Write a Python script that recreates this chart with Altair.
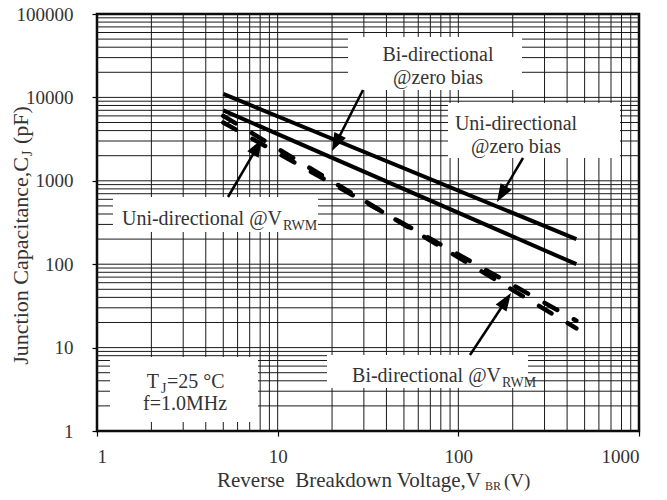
import math
import altair as alt
import pandas as pd

# ---------------- data ----------------
v_br = [5, 450]                      # reverse breakdown voltage (V)
bi_zero = [11000, 200]               # Bi-directional @zero bias (pF)
uni_zero = [7000, 100]               # Uni-directional @zero bias (pF)
uni_vrwm = [6000, 17]                # Uni-directional @VRWM (pF)
bi_vrwm = [5000, 21]                 # Bi-directional @VRWM (pF)

x_major = [1, 10, 100, 1000]
y_major = [1, 10, 100, 1000, 10000, 100000]
grid_x = [m * 10 ** d for d in range(3) for m in range(1, 10)] + [1000]
grid_y = [m * 10 ** d for d in range(5) for m in range(1, 10)] + [100000]

# ---------------- layout / style ----------------
W, H = 542, 417
FONT = "Liberation Serif"
INK = "#333333"

xs = alt.Scale(type="log", domain=[1, 1000])
ys = alt.Scale(type="log", domain=[1, 100000])

AX = alt.Axis(values=x_major, format="d", title=None, grid=False, domain=False,
              tickSize=5, tickColor="black", tickWidth=1.2, labelPadding=11,
              labelFontSize=19, labelFont=FONT, labelColor=INK)
AY = alt.Axis(values=y_major, format="d", title=None, grid=False, domain=False,
              tickSize=5, tickColor="black", tickWidth=1.2, labelPadding=19,
              labelFontSize=19, labelFont=FONT, labelColor=INK)

series_names = ["Bi-directional @zero bias", "Uni-directional @zero bias",
                "Uni-directional @VRWM", "Bi-directional @VRWM"]
lines = pd.DataFrame({
    "v": v_br * 4,
    "c": bi_zero + uni_zero + uni_vrwm + bi_vrwm,
    "series": [s for s in series_names for _ in range(2)],
    "kind": ["zero"] * 4 + ["vrwm"] * 4,
})

gx = alt.Chart(pd.DataFrame({"g": grid_x})).mark_rule(
    color="#1a1a1a", strokeWidth=1).encode(x=alt.X("g:Q", scale=xs, axis=AX))
gy = alt.Chart(pd.DataFrame({"g": grid_y})).mark_rule(
    color="#1a1a1a", strokeWidth=1).encode(y=alt.Y("g:Q", scale=ys, axis=AY))

# white label boxes (plot pixel coordinates)
boxes = pd.DataFrame({
    "x0": [251, 351, 16, 13, 230],
    "x1": [425, 523, 221, 161, 431],
    "y0": [23, 89, 183, 343, 341],
    "y1": [76, 144, 218, 408, 374],
})
box_layer = alt.Chart(boxes).mark_rect(fill="white", stroke=None).encode(
    x=alt.X("x0:Q", scale=None), x2="x1",
    y=alt.Y("y0:Q", scale=None), y2="y1")

solid = alt.Chart(lines[lines.kind == "zero"]).mark_line(
    color="black", strokeWidth=4).encode(
    x=alt.X("v:Q", scale=xs, axis=AX),
    y=alt.Y("c:Q", scale=ys, axis=AY),
    detail="series:N")
dashed = alt.Chart(lines[lines.kind == "vrwm"]).mark_line(
    color="black", strokeWidth=4.5, strokeDash=[14.5, 19], strokeCap="round").encode(
    x=alt.X("v:Q", scale=xs, axis=AX),
    y=alt.Y("c:Q", scale=ys, axis=AY),
    detail="series:N")

# arrows: tail -> tip (plot pixel coordinates)
arr_sx = [266, 426, 131, 373]
arr_sy = [76, 144, 183, 341]
arr_tx = [235, 400, 165, 414]
arr_ty = [137, 188, 125, 279]
HEAD = 18
rows = []
for sx, sy, tx, ty in zip(arr_sx, arr_sy, arr_tx, arr_ty):
    dx, dy = tx - sx, ty - sy
    L = math.hypot(dx, dy)
    bx, by = tx - dx / L * (HEAD - 3), ty - dy / L * (HEAD - 3)
    ang = math.degrees(math.atan2(dx, -dy)) % 360
    rows.append({"sx": sx, "sy": sy, "bx": bx, "by": by, "tx": tx, "ty": ty, "ang": ang})
arrows = pd.DataFrame(rows)
shafts = alt.Chart(arrows).mark_rule(color="black", strokeWidth=2.5).encode(
    x=alt.X("sx:Q", scale=None), y=alt.Y("sy:Q", scale=None),
    x2="bx", y2="by")
heads = alt.Chart(arrows).mark_point(
    shape="M0,0 L-0.72,2 L0.72,2 Z", filled=True, color="black", opacity=1,
    size=HEAD * HEAD, strokeWidth=0).encode(
    x=alt.X("tx:Q", scale=None), y=alt.Y("ty:Q", scale=None),
    angle=alt.Angle("ang:Q", scale=None))

# texts (plot pixel coordinates, alphabetic baseline)
def text_layer(df, align, angle=0):
    return alt.Chart(df).mark_text(font=FONT, color=INK, align=align,
                                   baseline="alphabetic", angle=angle).encode(
        x=alt.X("px:Q", scale=None), y=alt.Y("py:Q", scale=None),
        text="t:N", size=alt.Size("s:Q", scale=None))

t_center = pd.DataFrame({
    "t": ["Bi-directional", "@zero bias", "Uni-directional", "@zero bias", "f=1.0MHz"],
    "px": [341, 341, 419, 419, 88],
    "py": [47, 70, 116, 138.5, 396],
    "s": [20, 20, 20, 20, 20],
})
t_right = pd.DataFrame({
    "t": ["Uni-directional @V", "Bi-directional @V", "T",
          "Reverse\u00a0 Breakdown Voltage,V"],
    "px": [185, 404, 62, 384],
    "py": [210.5, 367.5, 374, 473],
    "s": [20, 20, 20, 21],
})
t_left = pd.DataFrame({
    "t": ["RWM", "RWM", "J", "=25 °C", "BR", "(V)"],
    "px": [186, 405, 64, 70, 388, 407],
    "py": [216, 373, 379, 374, 475.5, 473],
    "s": [14, 14, 14, 20, 12, 19],
})
t_rot_right = pd.DataFrame({"t": ["Junction Capacitance,C"], "px": [-69], "py": [143], "s": [22]})
t_rot_left = pd.DataFrame({"t": ["J", "(pF)"], "px": [-65, -69], "py": [142, 130], "s": [14, 22]})

chart = alt.layer(
    gx, gy, box_layer, solid, dashed, shafts, heads,
    text_layer(t_center, "center"), text_layer(t_right, "right"),
    text_layer(t_left, "left"),
    text_layer(t_rot_right, "right", 270), text_layer(t_rot_left, "left", 270),
).properties(
    width=W, height=H,
    autosize=alt.AutoSizeParams(type="none"),
    padding={"left": 89, "top": 6, "right": 20, "bottom": 61},
    background="white",
).configure_view(stroke="black", strokeWidth=2.5)

chart.save("out.html", embed_options={"renderer": "svg", "actions": False})
